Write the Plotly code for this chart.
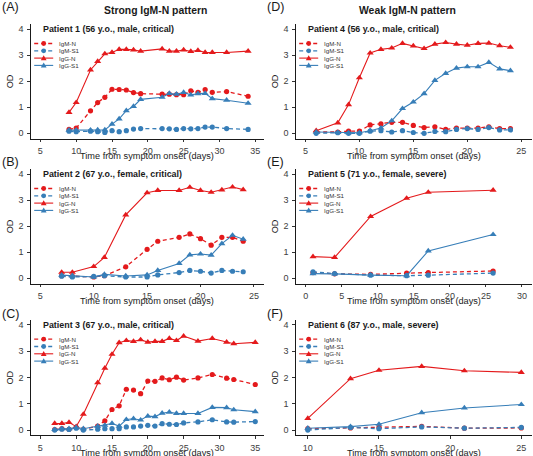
import plotly.graph_objects as go

W, H = 533, 456
RED = "#E41A1C"
BLUE = "#377EB8"
FONT = "Liberation Sans, Arial, Helvetica, sans-serif"

# ---------------- data ----------------
series_names = ["IgM-N", "IgM-S1", "IgG-N", "IgG-S1"]

p1_days = [9, 10, 12, 13, 14, 15, 16, 17, 18, 19, 22, 23, 24, 25, 26, 27, 28, 29, 31, 34]
p1_igm_n = [0.15, 0.20, 0.86, 1.18, 1.38, 1.69, 1.68, 1.66, 1.56, 1.52, 1.50, 1.50, 1.48, 1.48, 1.63, 1.57, 1.68, 1.57, 1.60, 1.42]
p1_igm_s1 = [0.08, 0.06, 0.08, 0.06, 0.03, 0.10, 0.06, 0.10, 0.16, 0.18, 0.18, 0.17, 0.15, 0.18, 0.17, 0.18, 0.24, 0.24, 0.18, 0.15]
p1_igg_n = [0.80, 1.18, 2.43, 2.76, 3.05, 3.10, 3.22, 3.22, 3.20, 3.15, 3.24, 3.15, 3.15, 3.20, 3.14, 3.18, 3.10, 3.10, 3.10, 3.15]
p1_igg_s1 = [0.12, 0.12, 0.12, 0.13, 0.13, 0.35, 0.55, 0.87, 1.03, 1.30, 1.38, 1.53, 1.50, 1.57, 1.47, 1.52, 1.53, 1.33, 1.27, 1.15]

p2_days = [7, 8, 10, 11, 13, 15, 16, 18, 19, 20, 21, 22, 23, 24]
p2_igm_n = [0.10, 0.08, 0.05, 0.10, 0.44, 1.11, 1.42, 1.57, 1.70, 1.52, 1.27, 1.57, 1.57, 1.42]
p2_igm_s1 = [0.08, 0.05, 0.07, 0.10, 0.05, 0.05, 0.13, 0.22, 0.30, 0.27, 0.20, 0.30, 0.27, 0.25]
p2_igg_n = [0.23, 0.23, 0.45, 0.80, 2.43, 3.28, 3.37, 3.37, 3.49, 3.37, 3.30, 3.39, 3.50, 3.40]
p2_igg_s1 = [0.12, 0.10, 0.05, 0.15, 0.09, 0.13, 0.30, 0.57, 0.90, 0.93, 0.89, 1.33, 1.65, 1.50]

p3_days = [7, 8, 9, 10, 11, 13, 14, 15, 16, 17, 18, 19, 20, 21, 22, 23, 24, 25, 27, 29, 31, 32, 35]
p3_igm_n = [0.02, 0.05, 0.03, 0.10, 0.03, 0.15, 0.35, 0.78, 0.92, 1.55, 1.52, 1.38, 1.86, 1.85, 1.98, 1.91, 2.01, 1.90, 1.98, 2.11, 1.97, 1.92, 1.73]
p3_igm_s1 = [0.00, 0.03, 0.02, 0.07, 0.00, 0.03, 0.05, 0.05, 0.05, 0.12, 0.12, 0.15, 0.18, 0.15, 0.24, 0.22, 0.21, 0.27, 0.31, 0.39, 0.31, 0.30, 0.32]
p3_igg_n = [0.25, 0.25, 0.29, 0.13, 0.60, 1.80, 2.35, 2.88, 3.32, 3.40, 3.37, 3.43, 3.34, 3.37, 3.37, 3.48, 3.40, 3.57, 3.38, 3.48, 3.34, 3.28, 3.33]
p3_igg_s1 = [0.02, 0.05, 0.05, 0.10, 0.05, 0.15, 0.18, 0.25, 0.15, 0.40, 0.43, 0.38, 0.53, 0.51, 0.64, 0.68, 0.63, 0.63, 0.63, 0.86, 0.85, 0.77, 0.70]

p4_days = [6, 8, 9, 10, 11, 12, 13, 14, 15, 16, 17, 18, 19, 20, 21, 22, 23, 24]
p4_igm_n = [0.05, 0.05, 0.08, 0.08, 0.32, 0.36, 0.42, 0.42, 0.30, 0.22, 0.25, 0.15, 0.20, 0.20, 0.20, 0.25, 0.18, 0.18]
p4_igm_s1 = [0.00, 0.02, 0.00, 0.00, 0.08, 0.10, 0.05, 0.10, 0.03, 0.00, 0.07, 0.06, 0.15, 0.18, 0.15, 0.22, 0.13, 0.13]
p4_igg_n = [0.10, 0.40, 1.10, 2.13, 3.08, 3.22, 3.27, 3.45, 3.35, 3.25, 3.42, 3.48, 3.42, 3.38, 3.45, 3.46, 3.36, 3.30]
p4_igg_s1 = [0.05, 0.03, 0.02, 0.02, 0.10, 0.20, 0.48, 0.95, 1.20, 1.52, 2.03, 2.30, 2.50, 2.55, 2.55, 2.72, 2.47, 2.40]

p5_days = [1, 4, 9, 14, 17, 26]
p5_igm_n = [0.22, 0.17, 0.15, 0.20, 0.22, 0.28]
p5_igm_s1 = [0.25, 0.18, 0.12, 0.10, 0.12, 0.20]
p5_igg_n = [0.83, 0.80, 2.37, 3.07, 3.30, 3.38]
p5_igg_s1 = [0.18, 0.17, 0.12, 0.10, 1.05, 1.68]

p6_days = [10, 13, 15, 18, 21, 25]
p6_igm_n = [0.05, 0.08, 0.10, 0.14, 0.07, 0.08]
p6_igm_s1 = [0.00, 0.10, 0.05, 0.12, 0.07, 0.10]
p6_igg_n = [0.44, 1.95, 2.27, 2.42, 2.25, 2.19]
p6_igg_s1 = [0.07, 0.13, 0.22, 0.66, 0.84, 0.97]

panel_letters = ["(A)", "(B)", "(C)", "(D)", "(E)", "(F)"]
patient_texts = [
    "Patient 1 (56 y.o., male, critical)",
    "Patient 2 (67 y.o., female, critical)",
    "Patient 3 (67 y.o., male, critical)",
    "Patient 4 (56 y.o., male, critical)",
    "Patient 5 (71 y.o., female, severe)",
    "Patient 6 (87 y.o., male, severe)",
]
x_ticks = [
    [5, 10, 15, 20, 25, 30, 35],
    [5, 10, 15, 20, 25],
    [5, 10, 15, 20, 25, 30, 35],
    [5, 10, 15, 20, 25],
    [0, 5, 10, 15, 20, 25, 30],
    [10, 15, 20, 25],
]
y_ticks = [0, 1, 2, 3, 4]
column_titles = ["Strong IgM-N pattern", "Weak IgM-N pattern"]
x_title = "Time from symptom onset (days)"
y_title = "OD"

panel_data = [
    (p1_days, [p1_igm_n, p1_igm_s1, p1_igg_n, p1_igg_s1]),
    (p2_days, [p2_igm_n, p2_igm_s1, p2_igg_n, p2_igg_s1]),
    (p3_days, [p3_igm_n, p3_igm_s1, p3_igg_n, p3_igg_s1]),
    (p4_days, [p4_igm_n, p4_igm_s1, p4_igg_n, p4_igg_s1]),
    (p5_days, [p5_igm_n, p5_igm_s1, p5_igg_n, p5_igg_s1]),
    (p6_days, [p6_igm_n, p6_igm_s1, p6_igg_n, p6_igg_s1]),
]

# ---------------- styling / layout ----------------
styles = [
    dict(color=RED, dash="4px,3px", symbol="circle"),
    dict(color=BLUE, dash="4px,3px", symbol="circle"),
    dict(color=RED, dash="solid", symbol="triangle-up"),
    dict(color=BLUE, dash="solid", symbol="triangle-up"),
]

x_ranges = [[3.65, 36.15], [4.1, 25.9], [3.65, 36.15], [4.1, 26.0], [-1.4, 31.4], [9.15, 25.75]]
y_range = [-0.2, 4.2]

col_px = [(30.7, 263.5), (295.7, 532.0)]
row_px = [(23.8, 138.5), (168.8, 283.5), (319.5, 435.3)]


def px(x):
    return x / W


def py(y):
    return 1 - y / H


fig = go.Figure()
shapes = []
annotations = []
layout_axes = {}

for i in range(6):
    col = i // 3
    row = i % 3
    n = i + 1
    xname = "x" if n == 1 else f"x{n}"
    yname = "y" if n == 1 else f"y{n}"
    xl, xr = col_px[col]
    yt, yb = row_px[row]

    days, vals = panel_data[i]
    for name, v, st in zip(series_names, vals, styles):
        fig.add_trace(go.Scatter(
            x=days, y=v, mode="lines+markers", name=name, showlegend=False,
            xaxis=xname, yaxis=yname, cliponaxis=False,
            line=dict(color=st["color"], width=1.3 if st["dash"] != "solid" else 1.1, dash=st["dash"]),
            marker=dict(color=st["color"], symbol=st["symbol"],
                        size=5.2 if st["symbol"] == "circle" else 6.2,
                        line=dict(width=0)),
        ))

    axis_common = dict(
        showgrid=False, zeroline=False, showline=True, linecolor="#1a1a1a", linewidth=1,
        ticks="outside", ticklen=2.5, tickwidth=1, tickcolor="#333333",
        tickfont=dict(family=FONT, size=9, color="#3d3d3d"), fixedrange=True,
    )
    layout_axes["xaxis" if n == 1 else f"xaxis{n}"] = dict(
        axis_common, domain=[px(xl), px(xr)], anchor=yname, range=x_ranges[i],
        tickmode="array", tickvals=x_ticks[i], ticktext=[str(t) for t in x_ticks[i]],
        ticklabelstandoff=1,
    )
    layout_axes["yaxis" if n == 1 else f"yaxis{n}"] = dict(
        axis_common, domain=[py(yb), py(yt)], anchor=xname, range=y_range,
        tickmode="array", tickvals=y_ticks, ticktext=[str(t) for t in y_ticks],
        ticklabelstandoff=2,
    )

    # axis titles
    annotations.append(dict(
        x=px((xl + xr) / 2), y=py(yb + 17.3), xref="paper", yref="paper",
        text=x_title, showarrow=False, xanchor="center", yanchor="middle",
        font=dict(family=FONT, size=9.2, color="#1a1a1a"),
    ))
    annotations.append(dict(
        x=px(xl - 20.5), y=py((yt + yb) / 2), xref="paper", yref="paper",
        text=y_title, showarrow=False, xanchor="center", yanchor="middle", textangle=-90,
        font=dict(family=FONT, size=9.2, color="#1a1a1a"),
    ))
    # panel letter
    letter_y = [7, 162, 314][row]
    annotations.append(dict(
        x=px(-0.5 + col * 265.5), y=py(letter_y), xref="paper", yref="paper",
        text=panel_letters[i], showarrow=False, xanchor="left", yanchor="middle",
        font=dict(family=FONT, size=12.5, color="#1a1a1a"),
    ))
    # patient label
    annotations.append(dict(
        x=px(xl + 10.5), y=py(yt + 5.5), xref="paper", yref="paper",
        text="<b>" + patient_texts[i] + "</b>", showarrow=False,
        xanchor="left", yanchor="middle",
        font=dict(family=FONT, size=8.9, color="#1a1a1a"),
    ))
    # legend (drawn as layout glyphs)
    for k, (name, st) in enumerate(zip(series_names, styles)):
        ly = yt + 19.7 + k * 7.3
        x0, x1 = xl + 3.5, xl + 22.5
        xc = (x0 + x1) / 2
        shapes.append(dict(
            type="line", xref="paper", yref="paper",
            x0=px(x0), x1=px(x1), y0=py(ly), y1=py(ly),
            line=dict(color=st["color"], width=1.3 if st["dash"] != "solid" else 1.1, dash=st["dash"]),
        ))
        if st["symbol"] == "circle":
            r = 2.4
            shapes.append(dict(
                type="circle", xref="paper", yref="paper",
                x0=px(xc - r), x1=px(xc + r), y0=py(ly - r), y1=py(ly + r),
                fillcolor=st["color"], line=dict(width=0),
            ))
        else:
            s = 2.9
            path = "M {:.5f},{:.5f} L {:.5f},{:.5f} L {:.5f},{:.5f} Z".format(
                px(xc), py(ly - s), px(xc - s), py(ly + s * 0.75), px(xc + s), py(ly + s * 0.75))
            shapes.append(dict(
                type="path", xref="paper", yref="paper", path=path,
                fillcolor=st["color"], line=dict(width=0),
            ))
        annotations.append(dict(
            x=px(xl + 26.6), y=py(ly), xref="paper", yref="paper",
            text=name, showarrow=False, xanchor="left", yanchor="middle",
            font=dict(family=FONT, size=6.2, color="#333333"),
        ))

# column titles
for c, (title, cx) in enumerate(zip(column_titles, [155.0, 407.5])):
    annotations.append(dict(
        x=px(cx), y=py(10.5), xref="paper", yref="paper",
        text="<b>" + title + "</b>", showarrow=False, xanchor="center", yanchor="middle",
        font=dict(family=FONT, size=10.4, color="#1a1a1a"),
    ))

fig.update_layout(
    width=W, height=H,
    margin=dict(l=0, r=0, t=0, b=0, pad=0),
    paper_bgcolor="white", plot_bgcolor="white",
    showlegend=False,
    font=dict(family=FONT),
    shapes=shapes, annotations=annotations,
    **layout_axes,
)

fig.write_html(
    "out.html",
    config={"displayModeBar": False},
    post_script="document.body.style.margin='0';document.body.style.padding='0';document.body.style.overflow='hidden';",
)
